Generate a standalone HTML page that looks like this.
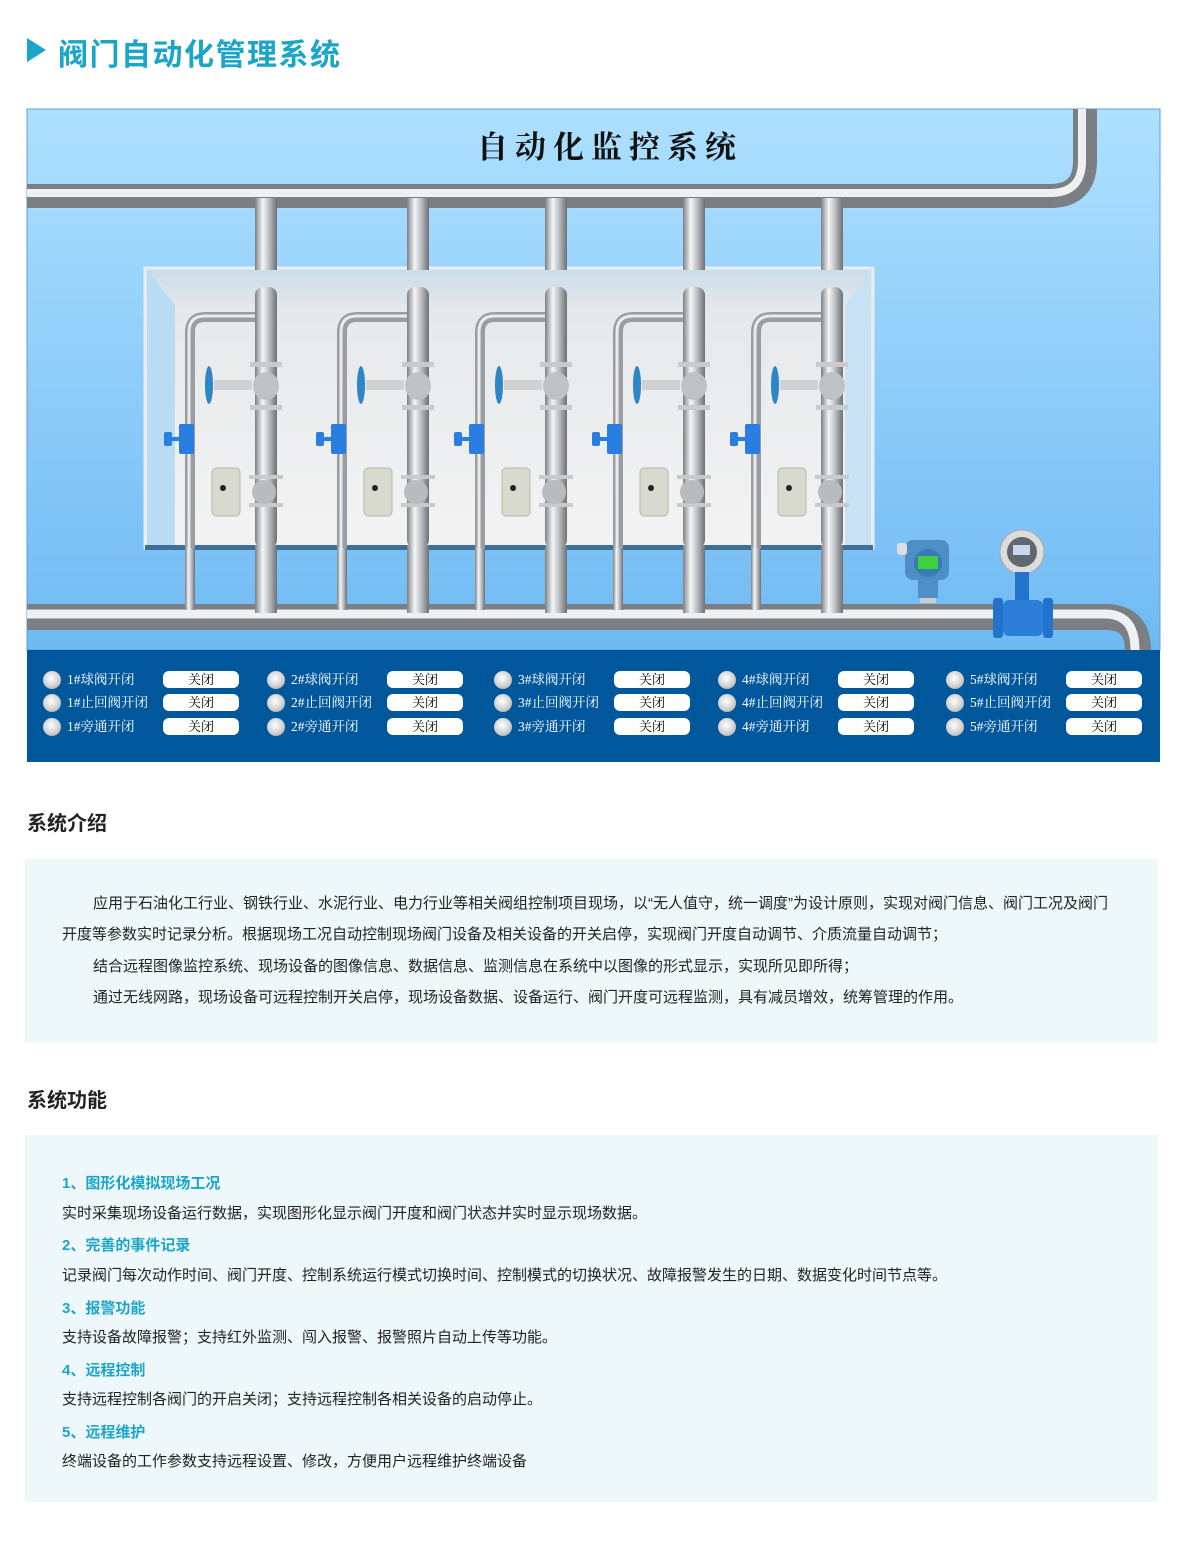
<!DOCTYPE html>
<html><head><meta charset="utf-8">
<style>
body{margin:0;background:#fff;width:1183px;height:1551px;position:relative;font-family:"Liberation Sans","Noto Sans CJK SC",sans-serif;overflow:hidden}
.h1{position:absolute;left:58px;top:30px;font-size:30px;font-weight:bold;color:#1ba6c9;letter-spacing:1.5px}
.tri{position:absolute;left:27px;top:38px;width:0;height:0;border-top:12px solid transparent;border-bottom:12px solid transparent;border-left:19px solid #1ba6c9}
.h2{position:absolute;left:27px;font-size:20px;font-weight:bold;color:#222}
.box{position:absolute;left:25px;width:1133px;background:#eef7f9}
.p{position:absolute;left:62px;font-size:15px;color:#222;white-space:nowrap}
.t{position:absolute;left:62px;font-size:15px;font-weight:bold;color:#1ba6c9}
.ctl{position:absolute;font-family:"Liberation Serif","Noto Serif CJK SC",serif;font-size:13.5px;color:#fff}
.ctl .r{position:absolute;left:0;width:18px;height:18px;border-radius:50%;background:radial-gradient(circle at 45% 40%,#fff,#ccc 60%,#888);}
.ctl .l{position:absolute;left:24px;top:-3px;white-space:nowrap}
.ctl .b{position:absolute;left:120px;width:76px;height:17px;background:#fff;border-radius:6px;color:#000;text-align:center;line-height:17px;font-size:13px}
</style></head><body>
<div class="tri"></div><div class="h1">阀门自动化管理系统</div>

<svg style="position:absolute;left:0;top:0" width="1183" height="770">
<defs>
<linearGradient id="bg" x1="0" y1="0" x2="0" y2="1"><stop offset="0" stop-color="#aee0ff"/><stop offset="1" stop-color="#6fbaf3"/></linearGradient>
<linearGradient id="pv" x1="0" y1="0" x2="1" y2="0"><stop offset="0" stop-color="#7d8084"/><stop offset="0.35" stop-color="#f4f5f6"/><stop offset="0.6" stop-color="#c4c7ca"/><stop offset="1" stop-color="#6d7074"/></linearGradient>
<linearGradient id="bx" x1="0" y1="0" x2="0" y2="1"><stop offset="0" stop-color="#c9dcea"/><stop offset="0.15" stop-color="#e6e8ea"/><stop offset="1" stop-color="#f3f3f3"/></linearGradient>
<g id="u">
 <rect x="-11" y="198" width="22" height="72" fill="url(#pv)"/>
 <rect x="-11" y="545" width="22" height="68" fill="url(#pv)"/>
 <rect x="-81" y="545" width="10" height="65" fill="url(#pv)"/>
 <path d="M-76 548 V332 Q-76 317 -61 317 H-4" fill="none" stroke="#9a9da1" stroke-width="10"/>
 <path d="M-77 548 V332 Q-77 316 -61 316 H-4" fill="none" stroke="#e9eaeb" stroke-width="3"/>
 <rect x="-11" y="287" width="22" height="261" rx="8" fill="url(#pv)"/>
 <rect x="-16" y="362" width="32" height="5" fill="#c8cacc"/><rect x="-16" y="405" width="32" height="5" fill="#c8cacc"/>
 <ellipse cx="0" cy="386" rx="13" ry="14" fill="#bfc2c5"/>
 <rect x="-52" y="380" width="38" height="10" fill="#cfd1d3"/>
 <ellipse cx="-57" cy="385" rx="4" ry="19" fill="#2d86c8"/>
 <rect x="-87" y="424" width="15" height="30" rx="2" fill="#2a7de1"/>
 <rect x="-102" y="432" width="8" height="14" rx="2" fill="#2a7de1"/><rect x="-94" y="437" width="7" height="4" fill="#2a7de1"/>
 <rect x="-17" y="475" width="34" height="4" fill="#c8cacc"/><rect x="-17" y="503" width="34" height="4" fill="#c8cacc"/>
 <ellipse cx="-2" cy="492" rx="12" ry="12" fill="#b9bcbf"/>
 <rect x="-54" y="468" width="28" height="48" rx="4" fill="#d8d9cf" stroke="#b8b9ae"/>
 <circle cx="-43" cy="488" r="3" fill="#222"/>
</g>
</defs>
<rect x="27" y="109" width="1133" height="541" fill="url(#bg)" stroke="#5aa0d8"/>
<rect x="27" y="650" width="1133" height="112" fill="#00579b"/>
<text x="610" y="158" text-anchor="middle" font-family="Liberation Serif,Noto Serif CJK SC,serif" font-size="31" font-weight="bold" letter-spacing="7" fill="#111">自动化监控系统</text>
<path d="M27 196 H1050 Q1085 196 1085 161 V109" fill="none" stroke="#7b7e82" stroke-width="24"/>
<path d="M27 193 H1050 Q1082 193 1082 161 V109" fill="none" stroke="#eef0f1" stroke-width="8"/>
<path d="M27 617 H1105 Q1138 617 1138 650" fill="none" stroke="#7b7e82" stroke-width="26"/>
<path d="M27 614 H1105 Q1135 614 1135 650" fill="none" stroke="#eef0f1" stroke-width="9"/>
<rect x="145" y="268" width="728" height="280" fill="url(#bx)" stroke="#e8eef3" stroke-width="3"/>
<polygon points="147,270 175,305 175,545 147,545" fill="#b9dcf5"/>
<polygon points="871,270 845,305 845,545 871,545" fill="#c8e2f4"/>
<rect x="145" y="545" width="728" height="5" fill="#3f6f98"/>
<use href="#u" x="266"/><use href="#u" x="418"/><use href="#u" x="556"/><use href="#u" x="694"/><use href="#u" x="832"/>
<rect x="905" y="540" width="44" height="40" rx="8" fill="#4d8fc4"/>
<rect x="897" y="543" width="10" height="12" rx="3" fill="#ddd"/>
<circle cx="928" cy="563" r="14" fill="#3a7bb5"/><rect x="918" y="556" width="20" height="13" fill="#3ed13e"/>
<rect x="918" y="580" width="20" height="18" fill="#4d8fc4"/><rect x="920" y="598" width="16" height="5" fill="#ccc"/>
<circle cx="1022" cy="552" r="22" fill="#dcdcdc" stroke="#aaa"/>
<circle cx="1022" cy="552" r="15" fill="#5f6770"/><rect x="1013" y="545" width="17" height="10" fill="#c9d7ec"/>
<rect x="1015" y="572" width="14" height="28" fill="#2273cc"/>
<rect x="993" y="598" width="10" height="40" rx="3" fill="#2273cc"/><rect x="1043" y="598" width="10" height="40" rx="3" fill="#2273cc"/>
<rect x="1003" y="600" width="40" height="36" rx="6" fill="#2b7fd8"/>
</svg>

<div class="ctl" style="left:43px;top:671px"><div class="r"></div><div class="l">1#球阀开闭</div><div class="b">关闭</div></div>
<div class="ctl" style="left:43px;top:694px"><div class="r"></div><div class="l">1#止回阀开闭</div><div class="b">关闭</div></div>
<div class="ctl" style="left:43px;top:718px"><div class="r"></div><div class="l">1#旁通开闭</div><div class="b">关闭</div></div>
<div class="ctl" style="left:267px;top:671px"><div class="r"></div><div class="l">2#球阀开闭</div><div class="b">关闭</div></div>
<div class="ctl" style="left:267px;top:694px"><div class="r"></div><div class="l">2#止回阀开闭</div><div class="b">关闭</div></div>
<div class="ctl" style="left:267px;top:718px"><div class="r"></div><div class="l">2#旁通开闭</div><div class="b">关闭</div></div>
<div class="ctl" style="left:494px;top:671px"><div class="r"></div><div class="l">3#球阀开闭</div><div class="b">关闭</div></div>
<div class="ctl" style="left:494px;top:694px"><div class="r"></div><div class="l">3#止回阀开闭</div><div class="b">关闭</div></div>
<div class="ctl" style="left:494px;top:718px"><div class="r"></div><div class="l">3#旁通开闭</div><div class="b">关闭</div></div>
<div class="ctl" style="left:718px;top:671px"><div class="r"></div><div class="l">4#球阀开闭</div><div class="b">关闭</div></div>
<div class="ctl" style="left:718px;top:694px"><div class="r"></div><div class="l">4#止回阀开闭</div><div class="b">关闭</div></div>
<div class="ctl" style="left:718px;top:718px"><div class="r"></div><div class="l">4#旁通开闭</div><div class="b">关闭</div></div>
<div class="ctl" style="left:946px;top:671px"><div class="r"></div><div class="l">5#球阀开闭</div><div class="b">关闭</div></div>
<div class="ctl" style="left:946px;top:694px"><div class="r"></div><div class="l">5#止回阀开闭</div><div class="b">关闭</div></div>
<div class="ctl" style="left:946px;top:718px"><div class="r"></div><div class="l">5#旁通开闭</div><div class="b">关闭</div></div>

<div class="h2" style="top:807px">系统介绍</div>
<div class="box" style="top:859px;height:184px"></div>
<div class="p" style="top:892px;left:93px">应用于石油化工行业、钢铁行业、水泥行业、电力行业等相关阀组控制项目现场，以“无人值守，统一调度”为设计原则，实现对阀门信息、阀门工况及阀门</div>
<div class="p" style="top:923px">开度等参数实时记录分析。根据现场工况自动控制现场阀门设备及相关设备的开关启停，实现阀门开度自动调节、介质流量自动调节；</div>
<div class="p" style="top:955px;left:93px">结合远程图像监控系统、现场设备的图像信息、数据信息、监测信息在系统中以图像的形式显示，实现所见即所得；</div>
<div class="p" style="top:986px;left:93px">通过无线网路，现场设备可远程控制开关启停，现场设备数据、设备运行、阀门开度可远程监测，具有减员增效，统筹管理的作用。</div>

<div class="h2" style="top:1084px">系统功能</div>
<div class="box" style="top:1135px;height:367px"></div>
<div class="t" style="top:1172px">1、图形化模拟现场工况</div>
<div class="p" style="top:1202px">实时采集现场设备运行数据，实现图形化显示阀门开度和阀门状态并实时显示现场数据。</div>
<div class="t" style="top:1234px">2、完善的事件记录</div>
<div class="p" style="top:1264px">记录阀门每次动作时间、阀门开度、控制系统运行模式切换时间、控制模式的切换状况、故障报警发生的日期、数据变化时间节点等。</div>
<div class="t" style="top:1297px">3、报警功能</div>
<div class="p" style="top:1326px">支持设备故障报警；支持红外监测、闯入报警、报警照片自动上传等功能。</div>
<div class="t" style="top:1359px">4、远程控制</div>
<div class="p" style="top:1388px">支持远程控制各阀门的开启关闭；支持远程控制各相关设备的启动停止。</div>
<div class="t" style="top:1421px">5、远程维护</div>
<div class="p" style="top:1450px">终端设备的工作参数支持远程设置、修改，方便用户远程维护终端设备</div>
</body></html>
